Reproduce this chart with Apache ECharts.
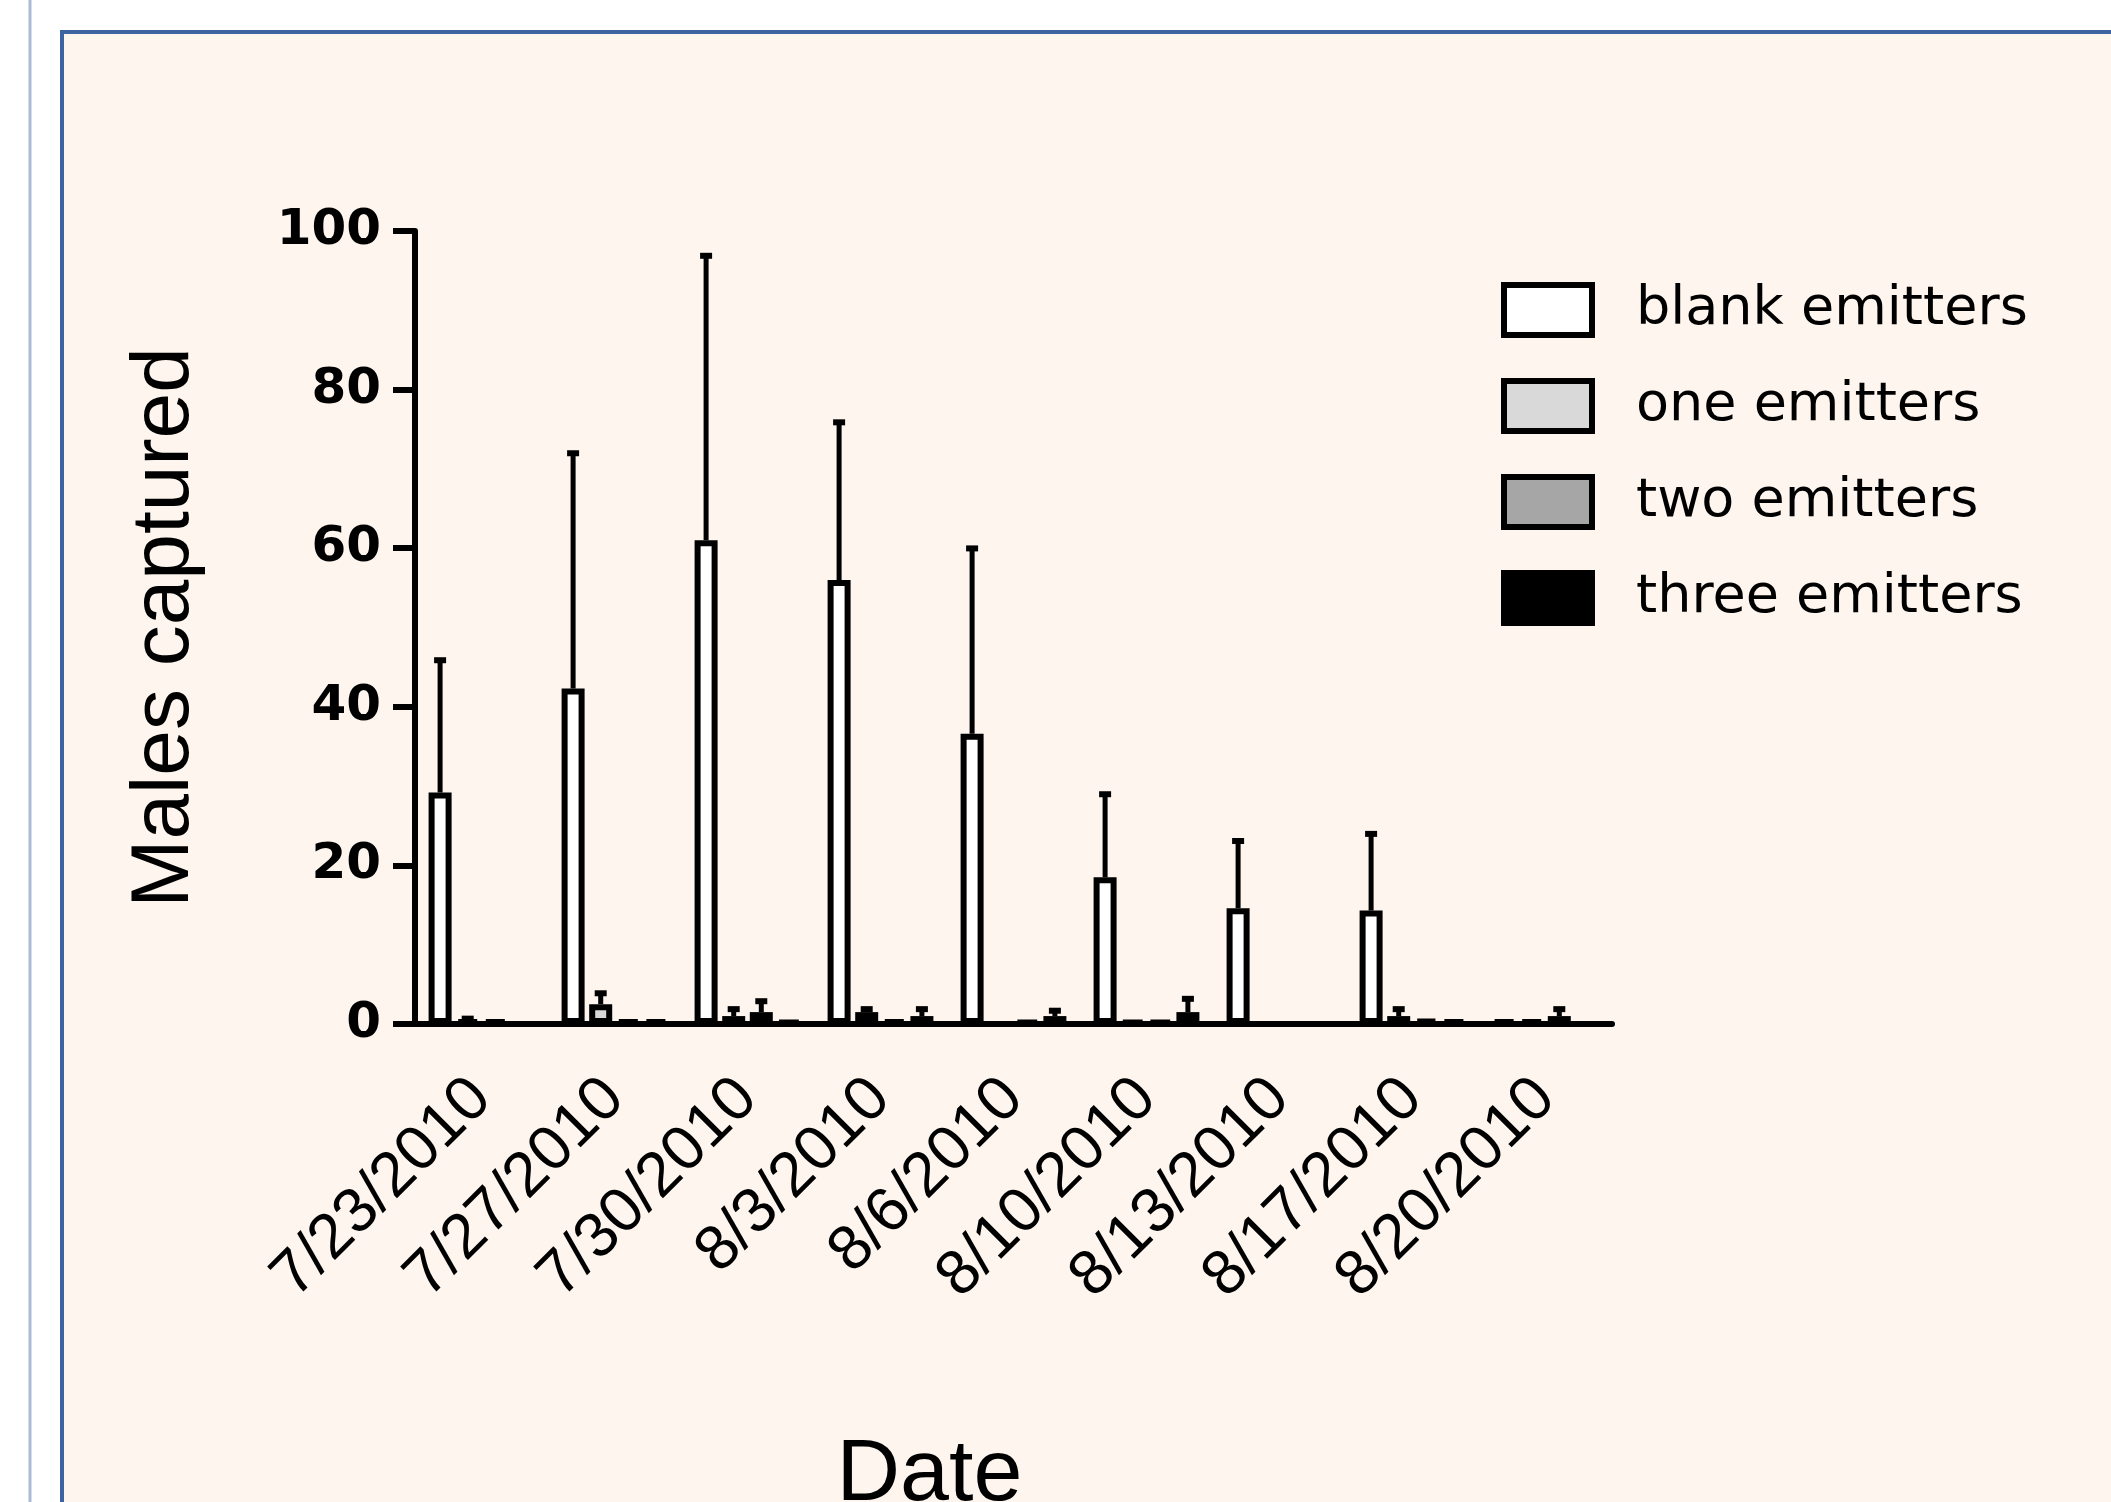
<!DOCTYPE html>
<html><head><meta charset="utf-8">
<script src="https://cdn.jsdelivr.net/npm/echarts@6/dist/echarts.min.js"></script>
<style>html,body{margin:0;padding:0;background:#fff}#c{width:2111px;height:1502px}</style>
</head><body><div id="c"></div>
<script>
// ---- data ----
const categories = ['7/23/2010','7/27/2010','7/30/2010','8/3/2010','8/6/2010','8/10/2010','8/13/2010','8/17/2010','8/20/2010'];
const seriesNames = ['blank emitters','one emitters','two emitters','three emitters'];
const blankVals = [29.2, 42.3, 61.0, 56.0, 36.6, 18.5, 14.6, 14.3, 0.5];
const blankErr  = [16.8, 29.8, 36.0, 20.0, 23.5, 10.6, 8.6, 9.8, 0];
const oneVals   = [0.5, 2.5, 1.0, 1.5, 0, 0.4, 0, 1.0, 0.5];
const oneErr    = [0.3, 1.5, 1.0, 0.5, 0, 0, 0, 1.0, 0];
const twoVals   = [0.5, 0.5, 1.5, 0.5, 0.4, 0.4, 0, 0.6, 1.0];
const twoErr    = [0, 0, 1.5, 0, 0, 0, 0, 0, 1.0];
const threeVals = [0, 0.5, 0.4, 1.0, 1.0, 1.5, 0, 0.5, 0];
const threeErr  = [0, 0, 0, 1.0, 0.8, 1.8, 0, 0, 0];
const yTicks = [0, 20, 40, 60, 80, 100];

// ---- styling ----
const fills = ['#ffffff', '#d9d9d9', '#a6a6a6', '#000000'];
const BAR_W = 23, BAR_GAP = 0.2, BORDER = 6;
const valuesList = [blankVals, oneVals, twoVals, threeVals];
const errList = [blankErr, oneErr, twoErr, threeErr];

function barSeries(k) {
  return {
    type: 'bar', name: seriesNames[k], data: valuesList[k],
    barWidth: BAR_W, barGap: (BAR_GAP * 100) + '%',
    itemStyle: { color: fills[k], borderColor: '#000', borderWidth: BORDER },
    emphasis: { disabled: true }, z: 3
  };
}
function errSeries(k) {
  const vals = valuesList[k], errs = errList[k];
  const data = [];
  vals.forEach((v, i) => { if (errs[i] > 0) data.push([i, v, v + errs[i]]); });
  return {
    type: 'custom', name: seriesNames[k] + ' error', silent: true, z: 4,
    data: data,
    encode: { x: 0, y: [1, 2] },
    renderItem: function (params, api) {
      const off = (k - 1.5) * BAR_W * (1 + BAR_GAP);
      const p0 = api.coord([api.value(0), api.value(1)]);
      const p1 = api.coord([api.value(0), api.value(2)]);
      const x = p0[0] + off;
      return { type: 'group', children: [
        { type: 'line', shape: { x1: x, y1: p0[1], x2: x, y2: p1[1] }, style: { stroke: '#000', lineWidth: 5 } },
        { type: 'line', shape: { x1: x - 6, y1: p1[1] + 1, x2: x + 6, y2: p1[1] + 1 }, style: { stroke: '#000', lineWidth: 6 } }
      ]};
    }
  };
}

const chart = echarts.init(document.getElementById('c'), null, { renderer: 'canvas' });
const option = {
  backgroundColor: '#ffffff',
  animation: false,
  graphic: [
    { type: 'rect', z: -10, shape: { x: 62, y: 32, width: 2060, height: 1480 }, style: { fill: '#fdf5ee' } },
    { type: 'line', z: -9, shape: { x1: 30, y1: 0, x2: 30, y2: 1502 }, style: { stroke: '#a9bbd4', lineWidth: 3 } },
    { type: 'line', z: -9, shape: { x1: 62, y1: 32, x2: 62, y2: 1502 }, style: { stroke: '#3d64a0', lineWidth: 4 } },
    { type: 'line', z: -9, shape: { x1: 60, y1: 32, x2: 2111, y2: 32 }, style: { stroke: '#3d64a0', lineWidth: 4 } }
  ],
  grid: { left: 415, top: 231, width: 1197, height: 793, containLabel: false, outerBoundsMode: 'none' },
  legend: {
    data: seriesNames,
    orient: 'vertical', left: 1496, top: 277,
    icon: 'rect', itemWidth: 88, itemHeight: 50, itemGap: 40,
    itemStyle: { borderColor: '#000', borderWidth: BORDER },
    textStyle: { fontFamily: 'DejaVu Sans', fontSize: 54, color: '#000', padding: [0, 0, 0, 39], lineHeight: 52 },
    selectedMode: false
  },
  xAxis: {
    type: 'category', data: categories,
    name: 'Date', nameLocation: 'middle', nameGap: 408,
    nameTextStyle: { fontFamily: 'Liberation Sans', fontSize: 88, color: '#000', padding: [0, 168, 0, 0] },
    axisLine: { lineStyle: { color: '#000', width: 6 } },
    axisTick: { alignWithLabel: true, length: 22, lineStyle: { color: '#000', width: 6 } },
    axisLabel: { rotate: 45, margin: 65, fontFamily: 'Liberation Sans', fontSize: 63, color: '#000' }
  },
  yAxis: {
    type: 'value', min: yTicks[0], max: yTicks[yTicks.length - 1], interval: yTicks[1] - yTicks[0],
    name: 'Males captured', nameLocation: 'middle', nameGap: 209,
    nameTextStyle: { fontFamily: 'Liberation Sans', fontSize: 82, color: '#000' },
    axisLine: { show: true, lineStyle: { color: '#000', width: 6 } },
    axisTick: { show: true, length: 22, lineStyle: { color: '#000', width: 6 } },
    axisLabel: { margin: 34, fontFamily: 'DejaVu Sans', fontWeight: 'bold', fontSize: 50, color: '#000' },
    splitLine: { show: false }
  },
  series: [barSeries(0), barSeries(1), barSeries(2), barSeries(3), errSeries(0), errSeries(1), errSeries(2), errSeries(3)]
};
chart.setOption(option);
</script>
</body></html>
